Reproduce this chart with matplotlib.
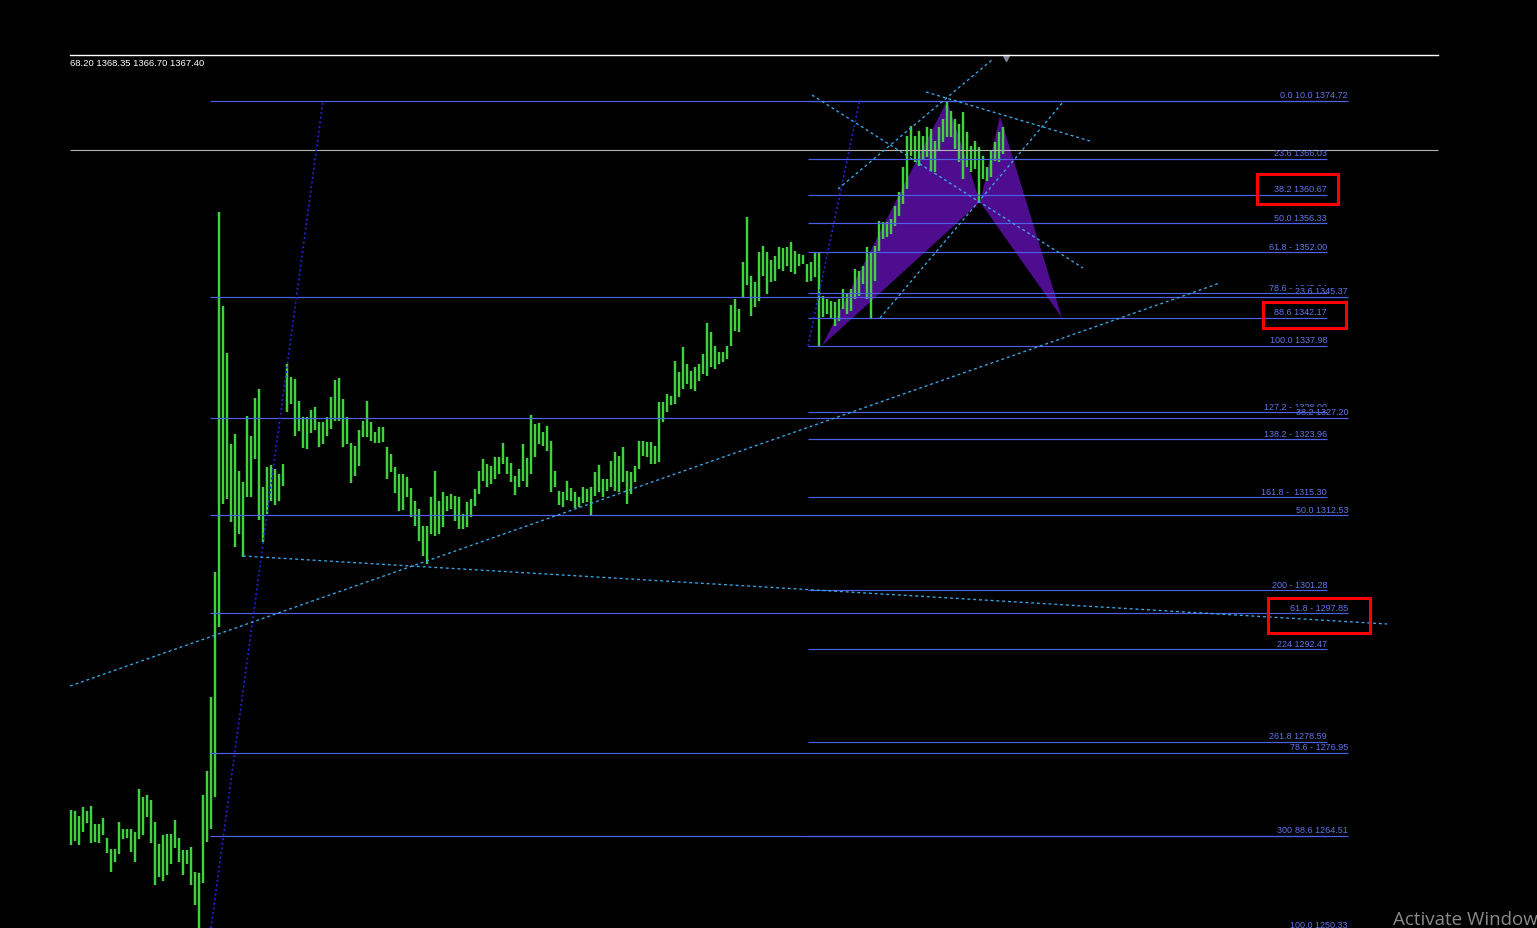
import matplotlib
matplotlib.use("Agg")
import matplotlib.pyplot as plt
import numpy as np
from matplotlib.patches import Polygon, Rectangle
from matplotlib.lines import Line2D

# ---------------- data ----------------
highs = [
    1268.35, 1268.2, 1267.45, 1268.8, 1268.2, 1268.95, 1266.25, 1266.25, 1267.15, 1264.15,
    1262.5, 1262.5, 1266.55, 1265.5, 1265.5, 1265.5, 1265.05, 1271.5, 1270.3, 1270.6,
    1269.85, 1266.55, 1263.25, 1264.6, 1264.75, 1264.75, 1266.85, 1264.15, 1262.35, 1262.35,
    1262.8, 1259.05, 1258.9, 1270.6, 1274.2, 1285.3, 1304.05, 1358.05, 1343.95, 1336.9,
    1323.25, 1324.75, 1319.2, 1317.55, 1327.45, 1324.45, 1330.15, 1331.5, 1316.8, 1319.8,
    1320.1, 1319.5, 1318.75, 1320.25, 1335.25, 1333.3, 1333.0, 1329.7, 1327.3, 1327.3,
    1328.35, 1328.8, 1326.55, 1326.55, 1327.3, 1330.3, 1332.85, 1333.15, 1330.0, 1327.3,
    1323.4, 1322.95, 1325.35, 1326.7, 1329.7, 1326.55, 1325.05, 1325.8, 1325.8, 1322.8,
    1321.75, 1319.8, 1318.75, 1318.75, 1318.3, 1316.65, 1314.7, 1313.5, 1310.95, 1310.95,
    1315.3, 1319.2, 1314.7, 1316.05, 1315.45, 1315.75, 1315.45, 1315.3, 1312.75, 1314.55,
    1315.0, 1316.5, 1319.2, 1321.0, 1320.25, 1319.95, 1321.3, 1321.3, 1323.4, 1321.3,
    1320.4, 1318.45, 1319.5, 1323.25, 1321.15, 1327.6, 1326.25, 1326.4, 1325.05, 1325.95,
    1323.7, 1319.2, 1316.2, 1316.05, 1317.7, 1316.65, 1316.05, 1315.3, 1316.8, 1316.5,
    1316.8, 1319.05, 1320.1, 1318.0, 1318.0, 1320.7, 1322.05, 1321.45, 1322.8, 1319.2,
    1319.05, 1319.95, 1323.7, 1323.7, 1323.55, 1323.55, 1322.95, 1329.55, 1329.55, 1330.75,
    1330.45, 1335.7, 1334.05, 1337.8, 1335.25, 1334.2, 1334.8, 1335.25, 1336.75, 1341.4,
    1340.05, 1337.95, 1337.05, 1337.05, 1337.95, 1344.1, 1345.0, 1343.5, 1350.55, 1357.3,
    1348.45, 1347.55, 1352.05, 1352.95, 1352.05, 1350.85, 1351.45, 1352.8, 1352.65, 1352.8,
    1353.55, 1352.2, 1351.75, 1351.6, 1350.25, 1350.55, 1352.05, 1352.05, 1345.45, 1345.0,
    1344.7, 1344.55, 1345.0, 1346.5, 1345.75, 1346.5, 1349.5, 1349.2, 1349.95, 1352.8,
    1352.05, 1352.95, 1356.7, 1356.55, 1356.55, 1357.0, 1358.95, 1361.05, 1364.8, 1369.45,
    1370.95, 1369.45, 1370.2, 1369.45, 1370.8, 1370.5, 1368.7, 1370.8, 1372.0, 1374.72,
    1373.2, 1372.0, 1371.25, 1373.05, 1370.05, 1367.95, 1368.7, 1367.8, 1366.45, 1364.8,
    1367.2, 1368.55, 1370.05, 1370.8,
]
lows = [
    1263.1, 1263.7, 1263.1, 1265.05, 1266.4, 1263.4, 1263.55, 1263.4, 1264.6, 1261.9,
    1259.05, 1260.55, 1261.75, 1264.0, 1264.15, 1262.05, 1260.55, 1264.0, 1264.6, 1267.3,
    1263.4, 1257.1, 1258.3, 1257.7, 1258.6, 1260.25, 1262.65, 1260.55, 1258.6, 1260.25,
    1257.1, 1254.1, 1249.75, 1257.4, 1263.55, 1265.5, 1270.3, 1295.8, 1314.25, 1315.0,
    1311.55, 1307.8, 1309.75, 1306.3, 1315.3, 1315.3, 1321.0, 1311.85, 1308.55, 1312.75,
    1314.7, 1314.1, 1314.7, 1316.95, 1328.05, 1329.25, 1324.45, 1325.2, 1322.65, 1322.5,
    1324.9, 1325.35, 1322.8, 1323.25, 1324.45, 1325.5, 1326.7, 1326.7, 1322.8, 1323.25,
    1317.4, 1318.45, 1319.95, 1324.3, 1324.3, 1323.7, 1323.4, 1323.4, 1323.55, 1318.0,
    1319.05, 1315.9, 1313.2, 1313.35, 1315.3, 1312.3, 1310.95, 1308.7, 1306.45, 1305.25,
    1309.75, 1309.45, 1309.75, 1310.8, 1313.2, 1313.5, 1311.7, 1310.5, 1310.5, 1310.8,
    1312.3, 1313.95, 1315.75, 1317.7, 1316.8, 1317.25, 1318.0, 1318.75, 1320.25, 1318.75,
    1317.55, 1315.6, 1316.8, 1317.7, 1316.8, 1318.75, 1321.3, 1323.25, 1322.95, 1322.2,
    1316.05, 1316.8, 1314.1, 1313.8, 1314.85, 1314.7, 1313.65, 1313.8, 1314.4, 1314.55,
    1312.45, 1315.45, 1316.05, 1315.3, 1316.2, 1316.8, 1316.2, 1316.05, 1317.55, 1314.25,
    1315.75, 1317.55, 1319.5, 1321.45, 1321.3, 1320.25, 1320.25, 1320.55, 1326.55, 1328.05,
    1329.1, 1329.25, 1330.3, 1331.5, 1332.25, 1331.5, 1331.2, 1332.7, 1333.75, 1333.45,
    1334.8, 1334.5, 1335.25, 1335.55, 1336.0, 1337.95, 1340.2, 1340.05, 1345.15, 1347.1,
    1342.45, 1343.8, 1344.7, 1348.45, 1345.75, 1347.55, 1347.7, 1349.5, 1349.2, 1349.95,
    1349.05, 1348.75, 1349.95, 1350.25, 1347.55, 1347.7, 1348.3, 1337.98, 1342.3, 1342.75,
    1342.15, 1340.95, 1341.7, 1343.5, 1342.75, 1343.2, 1345.0, 1345.45, 1347.25, 1345.0,
    1342.0, 1347.7, 1352.2, 1354.0, 1354.3, 1354.75, 1355.95, 1357.45, 1359.25, 1361.5,
    1366.45, 1365.55, 1364.95, 1366.0, 1366.3, 1364.2, 1364.05, 1367.2, 1368.55, 1369.3,
    1369.3, 1367.5, 1365.55, 1363.0, 1364.8, 1364.05, 1364.5, 1359.55, 1363.0, 1362.7,
    1363.3, 1365.7, 1365.55, 1366.75,
]
bars = np.arange(len(highs))

ohlc_text = "68.20 1368.35 1366.70 1367.40"
bid_price = 1367.40

# Fibonacci set 1 (1374.72 -> 1250.33)
fib1_prices = [1374.72, 1345.37, 1327.20, 1312.53, 1297.85, 1276.95, 1264.51, 1250.33]
fib1_labels = ["0.0 1374.72", "23.6 1345.37", "38.2 1327.20", "50.0 1312.53",
               "61.8 - 1297.85", "78.6 - 1276.95", "88.6 1264.51", "100.0 1250.33"]
fib1_span = (34.75, 319.25)

# Fibonacci set 2 (1374.72 -> 1337.98 with extensions)
fib2_prices = [1374.72, 1366.03, 1360.67, 1356.33, 1352.00, 1345.84, 1342.17, 1337.98,
               1328.00, 1323.96, 1315.30, 1301.28, 1292.47, 1278.59, 1264.50]
fib2_labels = ["0.0 1374.72", "23.6 1366.03", "38.2 1360.67", "50.0 1356.33",
               "61.8 - 1352.00", "78.6 - 1345.84", "88.6 1342.17", "100.0 1337.98",
               "127.2 - 1328.00", "138.2 - 1323.96", "161.8 -  1315.30", "200 - 1301.28",
               "224 1292.47", "261.8 1278.59", "300 1264.50"]
fib2_span = (184.25, 314.0)

# Harmonic pattern points X, A, B, C, D  (bar, price)
pat_bar = [187.75, 219.0, 227.25, 232.25, 247.75]
pat_price = [1337.98, 1374.72, 1359.55, 1372.45, 1342.17]

# Trend lines: (bar0, price0, bar1, price1)
dark_lines = [(35.0, 1250.65, 63.0, 1374.7),
              (184.25, 1337.95, 197.25, 1375.0)]
cyan_lines = [(-0.25, 1286.95, 287.25, 1347.4),
              (43.0, 1306.45, 329.0, 1296.25),
              (185.25, 1375.6, 253.0, 1349.65),
              (213.75, 1376.05, 254.75, 1368.7),
              (191.75, 1361.5, 230.5, 1381.0),
              (202.25, 1342.15, 248.0, 1374.55)]

# Red highlight boxes: (bar0, price_top, bar1, price_bottom)
red_boxes = [(296.5, 1363.75, 316.75, 1359.25),
             (298.0, 1344.55, 318.75, 1340.65),
             (299.25, 1300.15, 324.75, 1294.9)]

# ---------------- drawing ----------------
W, H = 1537, 929
fig = plt.figure(figsize=(W / 100, H / 100), dpi=100, facecolor="black")
ax = fig.add_axes([0, 0, 1, 1])
ax.set_facecolor("black")
ax.set_xlim(-17.75, 366.5)
ax.set_ylim(1250.65, 1390.0)
ax.axis("off")

FONT = "Liberation Sans"
line_col = "#4d60ea"
text_col = "#6275ea"

# harmonic pattern (behind bars)
ax.add_patch(Polygon([(pat_bar[0], pat_price[0]), (pat_bar[1], pat_price[1]),
                      (pat_bar[2], pat_price[2])], closed=True,
                     facecolor="#4e0c8e", edgecolor="none", zorder=1))
ax.add_patch(Polygon([(pat_bar[2], pat_price[2]), (pat_bar[3], pat_price[3]),
                      (pat_bar[4], pat_price[4])], closed=True,
                     facecolor="#4e0c8e", edgecolor="none", zorder=1))

# price bars
ax.vlines(bars, lows, highs, colors="#3fd23f", linewidth=1.75, zorder=2)

# bid line
ax.hlines(bid_price, -0.25, 341.75, colors="#b4b4b4", linewidth=0.8, zorder=3)

# fib lines
ax.hlines(fib1_prices, fib1_span[0], fib1_span[1], colors=line_col, linewidth=0.85, zorder=6)
ax.hlines(fib2_prices, fib2_span[0], fib2_span[1], colors=line_col, linewidth=0.85, zorder=6)

for p, lab in zip(fib2_prices, fib2_labels):
    ax.annotate(lab, xy=(fib2_span[1], p), xytext=(0, 1), textcoords="offset points",
                ha="right", va="bottom", fontsize=6.5, color=text_col, family=FONT,
                zorder=4, annotation_clip=False)
for p, lab in zip(fib1_prices, fib1_labels):
    ax.annotate(lab, xy=(fib1_span[1], p), xytext=(0, 1), textcoords="offset points",
                ha="right", va="bottom", fontsize=6.5, color=text_col, family=FONT,
                zorder=5, annotation_clip=False,
                bbox=dict(facecolor="black", edgecolor="none", pad=0.3))

# trend lines
for b0, p0, b1, p1 in dark_lines:
    ax.plot([b0, b1], [p0, p1], color="#2424dc", linewidth=1.2,
            linestyle=(0, (1.2, 1.6)), zorder=7)
for b0, p0, b1, p1 in cyan_lines:
    ax.plot([b0, b1], [p0, p1], color="#3aa8ec", linewidth=0.95,
            linestyle=(0, (2.2, 2.2)), zorder=7)

# red boxes
for b0, pt, b1, pb in red_boxes:
    ax.add_patch(Rectangle((b0, pb), b1 - b0, pt - pb, fill=False,
                           edgecolor="#ff0000", linewidth=2.2, zorder=8))

# chart frame top line, shift marker, OHLC readout
fig.add_artist(Line2D([70 / W, 1438 / W], [1 - 56 / H, 1 - 56 / H],
                      color="white", linewidth=1.0))
ax.plot([1006 / W], [1 - 59 / H], marker="v", markersize=5, color="#7f8a99",
        transform=fig.transFigure, zorder=9)
fig.text(70 / W, 1 - 64 / H, ohlc_text, color="white", fontsize=6.8, family=FONT,
         ha="left", va="center")

# watermark
fig.text(1393 / W, 1 - 920 / H, "Activate Windows", color="#8a8a8a", fontsize=13.5,
         family="Open Sans", ha="left", va="center")

fig.savefig("out.png", dpi=100, facecolor="black")
